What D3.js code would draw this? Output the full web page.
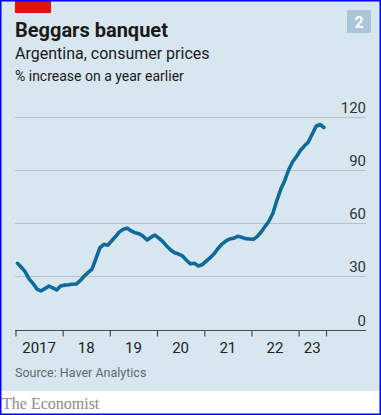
<!DOCTYPE html>
<html><head><meta charset="utf-8">
<script src="https://cdn.jsdelivr.net/npm/d3@7"></script>
<style>
html,body{margin:0;padding:0;background:#fff;}
svg{display:block;}
</style></head>
<body><svg id="chart" width="381" height="415"></svg>
<script>
// ---- data ----
const title = "Beggars banquet";
const subtitle = "Argentina, consumer prices";
const unitLabel = "% increase on a year earlier";
const sourceText = "Source: Haver Analytics";
const chartNumber = "2";
const startMonth = [2017, 0]; // January 2017, monthly series
const inflation = [
  37.3, 35.0, 32.6, 28.5, 26.0, 22.8, 21.7, 23.0, 24.5, 23.5, 22.3, 24.5,
  25.0, 25.2, 25.5, 25.6, 27.5, 30.0, 32.0, 34.0, 40.0, 46.0, 48.0, 47.5,
  50.0, 52.5, 55.0, 56.5, 57.0, 55.5, 54.5, 54.0, 52.5, 50.4, 52.0, 53.2,
  51.5, 49.5, 47.0, 44.8, 43.2, 42.5, 41.5, 39.0, 37.0, 37.3, 35.8, 36.5,
  38.5, 40.5, 42.5, 45.5, 48.0, 49.8, 51.0, 51.4, 52.5, 52.0, 51.2, 51.0,
  50.8, 52.5, 54.8, 58.0, 61.0, 65.5, 72.5, 79.0, 84.0, 90.0, 94.5, 97.5,
  101.0, 103.5, 105.5, 110.0, 114.5, 115.5, 113.8
];
const yTicks = [0, 30, 60, 90, 120];
const yearLabels = ["2017", "18", "19", "20", "21", "22", "23"];
const xDomain = [new Date(2017, 0, 1), new Date(2023, 7, 1)];

// ---- layout ----
const W = 381, H = 415;
const svg = d3.select("#chart");
const bg = "#d8e6ef";
const fontSans = "'Roboto','Lato','Noto Sans',sans-serif";

svg.append("rect").attr("x", 0).attr("y", 0).attr("width", W).attr("height", H).attr("fill", "#fff");
svg.append("rect").attr("x", 0).attr("y", 0).attr("width", W).attr("height", 391).attr("fill", bg);

// red tag
svg.append("rect").attr("x", 15).attr("y", 1).attr("width", 36).attr("height", 12).attr("fill", "#e3120b");

// number box
svg.append("rect").attr("x", 347).attr("y", 10).attr("width", 24).attr("height", 23).attr("fill", "#a9c6d8");
svg.append("text").attr("x", 359).attr("y", 28).attr("text-anchor", "middle")
  .attr("font-family", fontSans).attr("font-weight", 700).attr("font-size", 16).attr("fill", "#fff").text(chartNumber);

svg.append("text").attr("x", 15).attr("y", 37).attr("font-family", fontSans).attr("font-weight", 700)
  .attr("font-size", 20).attr("fill", "#1a1a1a").text(title);
svg.append("text").attr("x", 15).attr("y", 59).attr("font-family", fontSans)
  .attr("font-size", 16).attr("fill", "#1a1a1a").text(subtitle);
svg.append("text").attr("x", 15).attr("y", 81).attr("font-family", fontSans)
  .attr("font-size", 14).attr("fill", "#1a1a1a").text(unitLabel);

// scales
const x = d3.scaleTime().domain(xDomain).range([15.5, 326]);
const y = d3.scaleLinear().domain([0, 120]).range([329.5, 116.5]);

// gridlines
const gridX0 = 15, gridX1 = 366;
svg.append("g").selectAll("line").data(yTicks.filter(d => d > 0)).join("line")
  .attr("x1", gridX0).attr("x2", gridX1)
  .attr("y1", d => Math.round(y(d)) + 0.5).attr("y2", d => Math.round(y(d)) + 0.5)
  .attr("stroke", "#b3c2cc").attr("stroke-width", 1);

// y labels
svg.append("g").selectAll("text").data(yTicks).join("text")
  .attr("x", gridX1).attr("y", d => y(d) - 4).attr("text-anchor", "end")
  .attr("font-family", fontSans).attr("font-size", 15).attr("fill", "#333")
  .text(d => d);

// data series
const series = inflation.map((v, i) => ({
  date: d3.timeDay.offset(new Date(startMonth[0], startMonth[1] + i, 1), 15),
  value: v
}));

const line = d3.line().x(d => x(d.date)).y(d => y(d.value));
svg.append("path").datum(series).attr("d", line)
  .attr("fill", "none").attr("stroke", "#0f6a9c").attr("stroke-width", 3.6)
  .attr("stroke-linejoin", "round").attr("stroke-linecap", "round");

// x axis
const yearStarts = d3.timeYear.range(xDomain[0], xDomain[1]);
const tickVals = yearStarts.concat([xDomain[1]]);
const axisY = Math.round(y(0)) + 0.5;
const axis = d3.axisBottom(x).tickValues(tickVals).tickSize(6).tickSizeOuter(0).tickFormat("");
const gAxis = svg.append("g").attr("transform", `translate(0,${axisY})`).call(axis);
gAxis.select(".domain").remove();
gAxis.selectAll(".tick line").attr("stroke", "#4a4a4a").attr("stroke-width", 1.2);
svg.append("line").attr("x1", gridX0).attr("x2", gridX1).attr("y1", axisY).attr("y2", axisY)
  .attr("stroke", "#4a4a4a").attr("stroke-width", 1.2);

svg.append("g").selectAll("text").data(yearStarts).join("text")
  .attr("x", (d, i) => {
    const end = i + 1 < yearStarts.length ? yearStarts[i + 1] : xDomain[1];
    return (x(d) + x(end)) / 2;
  })
  .attr("y", 353).attr("text-anchor", "middle")
  .attr("font-family", fontSans).attr("font-size", 15).attr("fill", "#222")
  .text((d, i) => yearLabels[i]);

// source
svg.append("text").attr("x", 15).attr("y", 377).attr("font-family", fontSans)
  .attr("font-size", 12.5).attr("fill", "#666").text(sourceText);

// footer
svg.append("text").attr("x", 2).attr("y", 409).attr("font-family", "'Liberation Serif','DejaVu Serif',serif")
  .attr("font-size", 16).attr("fill", "#8a8a8a").text("The Economist");

// blue frame
svg.append("rect").attr("x", 0.75).attr("y", 0.75).attr("width", W - 1.5).attr("height", H - 1.5)
  .attr("fill", "none").attr("stroke", "#0000ff").attr("stroke-width", 1.5);
</script>
</body></html>
